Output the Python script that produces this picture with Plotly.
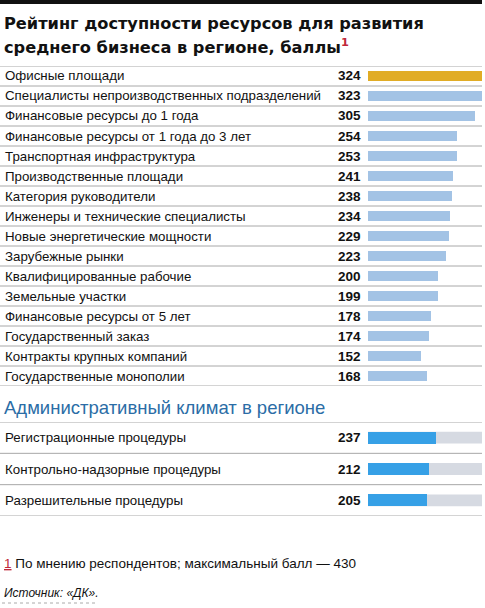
import plotly.graph_objects as go

W, H = 485, 608

# resources rating, top block
labels = [
    "Офисные площади",
    "Специалисты непроизводственных подразделений",
    "Финансовые ресурсы до 1 года",
    "Финансовые ресурсы от 1 года до 3 лет",
    "Транспортная инфраструктура",
    "Производственные площади",
    "Категория руководители",
    "Инженеры и технические специалисты",
    "Новые энергетические мощности",
    "Зарубежные рынки",
    "Квалифицированные рабочие",
    "Земельные участки",
    "Финансовые ресурсы от 5 лет",
    "Государственный заказ",
    "Контракты крупных компаний",
    "Государственные монополии",
]
values = [324, 323, 305, 254, 253, 241, 238, 234, 229, 223, 200, 199, 178, 174, 152, 168]

# administrative climate, bottom block
adm_labels = [
    "Регистрационные процедуры",
    "Контрольно-надзорные процедуры",
    "Разрешительные процедуры",
]
adm_values = [237, 212, 205]

GOLD = "#E1AC25"
LIGHT = "#A3C3E5"
BLUE = "#36A0E6"
TRACK = "#D6DAE2"
SEP = "#A8A8A8"
FONT = "Liberation Sans, Arial, sans-serif"
TITLE_FONT = "DejaVu Sans, Verdana, sans-serif"


def px_x(x):
    return x / W


def px_y(y):
    return 1 - y / H


bar_x0, bar_x1 = 368, 482
top_y0, top_y1 = 66, 386
bot_y0, bot_y1 = 422, 516

fig = go.Figure()

rows = list(range(len(labels)))
fig.add_trace(go.Bar(
    x=values, y=rows, orientation="h",
    marker=dict(color=[GOLD] + [LIGHT] * (len(values) - 1), line_width=0),
    width=0.46, xaxis="x", yaxis="y", hoverinfo="skip", showlegend=False,
))

adm_rows = list(range(len(adm_labels)))
fig.add_trace(go.Bar(
    x=adm_values, y=adm_rows, orientation="h",
    marker=dict(color=BLUE, line_width=0),
    width=0.38, xaxis="x2", yaxis="y2", hoverinfo="skip", showlegend=False,
))

annotations = []
shapes = []

# top heavy rule
shapes.append(dict(type="rect", xref="paper", yref="paper",
                   x0=0, x1=px_x(482), y0=px_y(4), y1=px_y(0),
                   fillcolor="#111", line_width=0))

# title, two lines set tight
title_lines = ["Рейтинг доступности ресурсов для развития",
               "среднего бизнеса в регионе, баллы"]
title_y = [23.5, 45.5]
for k, (line, yy) in enumerate(zip(title_lines, title_y)):
    txt = f"<b>{line}</b>"
    if k == len(title_lines) - 1:
        txt += "<sup><span style='color:#C0283A'><b>1</b></span></sup>"
    annotations.append(dict(
        xref="paper", yref="paper", x=px_x(2), y=px_y(yy), xanchor="left",
        yanchor="middle", showarrow=False, text=txt,
        font=dict(family=TITLE_FONT, size=16.2, color="#111"),
    ))

# top block rows
for i, (lab, v) in enumerate(zip(labels, values)):
    annotations.append(dict(xref="paper", yref="y", x=px_x(3), y=i, xanchor="left",
                            yanchor="middle", showarrow=False, text=lab,
                            font=dict(family=FONT, size=13.3, color="#111")))
    annotations.append(dict(xref="paper", yref="y", x=px_x(363), y=i, xanchor="right",
                            yanchor="middle", showarrow=False, text=f"<b>{v}</b>",
                            font=dict(family=FONT, size=13.5, color="#111")))
for i in range(len(labels) + 1):
    shapes.append(dict(type="line", xref="paper", yref="y", x0=0, x1=px_x(482),
                       y0=i - 0.5, y1=i - 0.5, line=dict(color=SEP, width=1)))

# section header
annotations.append(dict(
    xref="paper", yref="paper", x=px_x(2), y=px_y(407), xanchor="left", yanchor="middle",
    showarrow=False, text="Административный климат в регионе",
    font=dict(family=FONT, size=18.5, color="#2B6DA6"),
))

# bottom block rows
for i, (lab, v) in enumerate(zip(adm_labels, adm_values)):
    shapes.append(dict(type="rect", xref="x2 domain", yref="y2", x0=0, x1=1,
                       y0=i - 0.19, y1=i + 0.19, fillcolor=TRACK, line_width=0,
                       layer="below"))
    annotations.append(dict(xref="paper", yref="y2", x=px_x(3), y=i, xanchor="left",
                            yanchor="middle", showarrow=False, text=lab,
                            font=dict(family=FONT, size=13.3, color="#111")))
    annotations.append(dict(xref="paper", yref="y2", x=px_x(363), y=i, xanchor="right",
                            yanchor="middle", showarrow=False, text=f"<b>{v}</b>",
                            font=dict(family=FONT, size=13.5, color="#111")))
for i in range(len(adm_labels) + 1):
    shapes.append(dict(type="line", xref="paper", yref="y2", x0=0, x1=px_x(482),
                       y0=i - 0.5, y1=i - 0.5, line=dict(color=SEP, width=1)))

# footnote and source
annotations.append(dict(
    xref="paper", yref="paper", x=px_x(2), y=px_y(563), xanchor="left", yanchor="middle",
    showarrow=False,
    text="<span style='color:#C0283A'><u>1</u></span> По мнению респондентов; максимальный балл — 430",
    font=dict(family=FONT, size=13.5, color="#111"),
))
annotations.append(dict(
    xref="paper", yref="paper", x=px_x(2), y=px_y(593), xanchor="left", yanchor="middle",
    showarrow=False, text="<i>Источник: «ДК».</i>",
    font=dict(family=FONT, size=12, color="#111"),
))
shapes.append(dict(type="line", xref="paper", yref="paper", x0=px_x(2), x1=px_x(95),
                   y0=px_y(603), y1=px_y(603), line=dict(color="#AAA", width=1, dash="dot")))

fig.update_layout(
    width=W, height=H,
    margin=dict(l=0, r=0, t=0, b=0),
    paper_bgcolor="white", plot_bgcolor="rgba(0,0,0,0)",
    bargap=0,
    xaxis=dict(domain=[px_x(bar_x0), px_x(bar_x1)], range=[0, 324], visible=False,
               fixedrange=True),
    yaxis=dict(domain=[px_y(top_y1), px_y(top_y0)], range=[len(labels) - 0.5, -0.5],
               visible=False, fixedrange=True),
    xaxis2=dict(domain=[px_x(bar_x0), px_x(bar_x1)], range=[0, 397], visible=False,
                anchor="y2", fixedrange=True),
    yaxis2=dict(domain=[px_y(bot_y1), px_y(bot_y0)], range=[len(adm_labels) - 0.5, -0.5],
                visible=False, anchor="x2", fixedrange=True),
    annotations=annotations,
    shapes=shapes,
)

fig.write_html("out.html", config={"displayModeBar": False},
               post_script="document.body.style.margin='0';")
